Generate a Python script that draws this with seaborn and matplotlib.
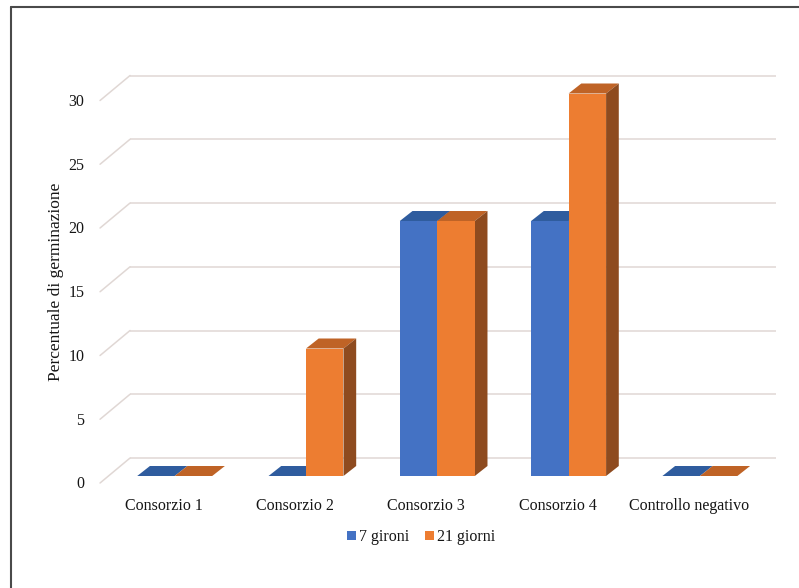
import matplotlib
matplotlib.use("Agg")
import matplotlib.pyplot as plt
from matplotlib.patches import Polygon, Patch
from matplotlib.lines import Line2D
import seaborn as sns
import pandas as pd

# ---- data ----
categories = ["Consorzio 1", "Consorzio 2", "Consorzio 3", "Consorzio 4", "Controllo negativo"]
series_names = ["7 gironi", "21 giorni"]
values_7 = [0, 0, 20, 20, 0]
values_21 = [0, 10, 20, 30, 0]
y_ticks = [0, 5, 10, 15, 20, 25, 30]
y_label = "Percentuale di germinazione"

front_colors = {"7 gironi": "#4472C4", "21 giorni": "#ED7D31"}
top_colors = {"7 gironi": "#2F5C9E", "21 giorni": "#BF6326"}
side_colors = {"7 gironi": "#264B85", "21 giorni": "#8E4B1F"}

df = pd.DataFrame({
    "cat": categories * 2,
    "serie": [series_names[0]] * len(categories) + [series_names[1]] * len(categories),
    "val": values_7 + values_21,
})

sns.set_theme(style="white")
plt.rcParams["font.family"] = ["Liberation Serif", "DejaVu Serif"]

TXT = "#151515"
W, H = 799, 588
fig = plt.figure(figsize=(W / 100, H / 100), dpi=100)
# pixel mapping: x_px = 174.7 + 131.3*c ; y_px = 476 - 12.75*v
px_x = 131.3
px_y = 12.75
left_px = 174.7 - 0.5 * px_x
ax = fig.add_axes([left_px / W, (H - 476) / H, 5 * px_x / W, 30 * px_y / H])

sns.barplot(data=df, x="cat", y="val", hue="serie", order=categories,
            hue_order=series_names, palette=front_colors, width=0.571,
            linewidth=0, edgecolor="none", saturation=1, legend=False, ax=ax)
ax.set_xlim(-0.5, 4.5)
ax.set_ylim(0, 30)
ax.axis("off")

# depth offsets (data units)
dx_bar, dy_bar = 12.7 / px_x, 10.0 / px_y
dx_back, dy_back = 21.0 / px_x, 18.0 / px_y
dx_front, dy_front = -9.0 / px_x, -7.0 / px_y

# back wall gridlines with diagonal to front plane
grid_color = "#E0D7D4"
x_back_left = -0.5 + dx_back
x_back_right = (776 - 174.7) / px_x
x_front_left = -0.5 + dx_front
for v in y_ticks:
    ax.plot([x_back_left, x_back_right], [v + dy_back, v + dy_back], color=grid_color,
            lw=1.1, zorder=0.5, clip_on=False, solid_capstyle="butt")
    ax.plot([x_front_left, x_back_left], [v + dy_front, v + dy_back], color=grid_color,
            lw=1.1, zorder=0.5, clip_on=False)
    ax.text(x_front_left - 0.118, v + dy_front - 0.1, str(v), ha="right", va="center",
            fontsize=11.5, color=TXT, clip_on=False)

# 3D faces for bars
n = len(categories)
for i, p in enumerate(ax.patches):
    serie = series_names[0] if i < n else series_names[1]
    x0 = p.get_x()
    x1 = x0 + p.get_width()
    h = p.get_height()
    base_z = 2.0 if serie == series_names[0] else 4.0
    p.set_zorder(base_z + 0.5)
    p.set_clip_on(False)
    top = Polygon([(x0, h), (x1, h), (x1 + dx_bar, h + dy_bar), (x0 + dx_bar, h + dy_bar)],
                  closed=True, facecolor=top_colors[serie], edgecolor="none",
                  zorder=base_z, clip_on=False)
    side = Polygon([(x1, 0), (x1 + dx_bar, dy_bar), (x1 + dx_bar, h + dy_bar), (x1, h)],
                   closed=True, facecolor=side_colors[serie], edgecolor="none",
                   zorder=base_z, clip_on=False)
    ax.add_patch(top)
    ax.add_patch(side)

# category labels
for c, lab in enumerate(categories):
    ax.text(c - 0.085, -2.35, lab, ha="center", va="center", fontsize=11.5,
            color=TXT, clip_on=False)

# y label
ax.text((56 - 174.7) / px_x, (476 - 282) / px_y, y_label, rotation=90,
        ha="center", va="center", fontsize=12.5, color=TXT, clip_on=False)

# legend
handles = [Patch(facecolor=front_colors[s], edgecolor="none", label=s) for s in series_names]
leg = fig.legend(handles=handles, loc="center", bbox_to_anchor=(421 / W, (H - 537) / H),
                 ncol=2, frameon=False, fontsize=11.5, handlelength=0.55, handleheight=0.55,
                 handletextpad=0.2, columnspacing=1.0)
for t in leg.get_texts():
    t.set_color(TXT)

# outer frame (left and top)
fig.add_artist(Line2D([11 / W, 11 / W], [0, 1 - 6.5 / H], color="#4a4a4a", lw=1.5,
                      transform=fig.transFigure))
fig.add_artist(Line2D([11 / W, 1], [1 - 6.5 / H, 1 - 6.5 / H], color="#4a4a4a", lw=1.5,
                      transform=fig.transFigure))

fig.savefig("out.png", dpi=100, facecolor="white")
